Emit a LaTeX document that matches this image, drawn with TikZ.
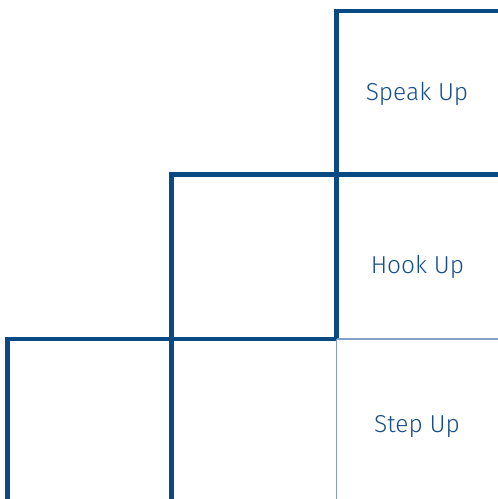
\documentclass[tikz,border=0pt]{standalone}
\usepackage{fontspec}
\setmainfont{Fira Sans}[UprightFont=* Light]
\usepackage{xcolor}
\usepackage{tikz}
\usetikzlibrary{positioning,calc}

\definecolor{stairblue}{RGB}{10,74,130}
\definecolor{faintblue}{RGB}{130,160,200}
\definecolor{wordblue}{RGB}{22,78,138}

\begin{document}
\begin{tikzpicture}[
    x=1pt, y=1pt,
    stair/.style={draw=stairblue, line width=4.4pt, miter limit=4},
    faint/.style={draw=faintblue, line width=1.8pt},
    stairtext/.style={font=\fontsize{24.5}{28}\selectfont, text=wordblue, anchor=base},
  ]
    \useasboundingbox (0,0) rectangle (498,499);

    % Corners of the stairs
    \coordinate (a0) at (7.5,0);
    \coordinate (a1) at (7.5,160);
    \coordinate (b0) at (171.5,0);
    \coordinate (b1) at (171.5,324.5);
    \coordinate (c1) at (336.5,160);
    \coordinate (c2) at (336.5,488);
    \coordinate (c0) at (336.5,0);
    \coordinate (r1) at (498,160);
    \coordinate (r2) at (498,324.5);
    \coordinate (r3) at (498,488);

    % Thick steps
    \draw[stair] (a0) -- (a1) -- (c1);
    \draw[stair] (b0) -- (b1) -- (r2);
    \draw[stair] (c1) -- (c2) -- (r3);

    % Light lines of the bottom box
    \draw[faint] (c1) -- (r1);
    \draw[faint] (c1) -- (c0);

    % Labels
    \node[stairtext] (speak) at (417,398.3) {Speak Up};
    \node[stairtext] (hook) at (417.5,225) {Hook Up};
    \node[stairtext] (stepup) at (417,66) {Step Up};
\end{tikzpicture}
\end{document}
